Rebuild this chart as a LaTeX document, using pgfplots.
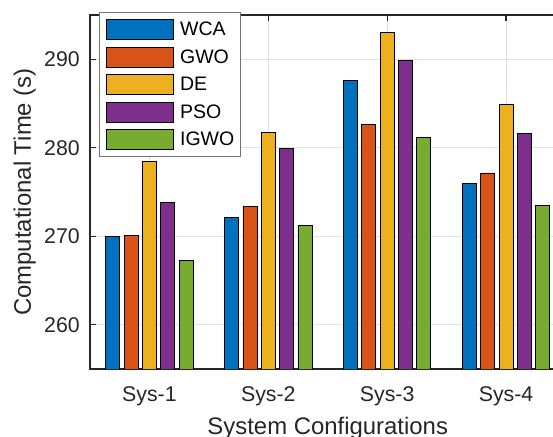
\documentclass[border=0pt]{standalone}
\usepackage{pgfplots}
\pgfplotsset{compat=1.18}
\usepackage{fontspec}
\setmainfont{Liberation Sans}
\definecolor{c1}{rgb}{0,0.447,0.741}
\definecolor{c2}{rgb}{0.85,0.325,0.098}
\definecolor{c3}{rgb}{0.929,0.694,0.125}
\definecolor{c4}{rgb}{0.494,0.184,0.556}
\definecolor{c5}{rgb}{0.466,0.674,0.188}
\definecolor{axc}{rgb}{0.15,0.15,0.15}
\pgfplotsset{/pgfplots/layers/mylayers/.define layer set={axis background,axis grid,main,axis ticks,axis lines,axis tick labels,axis descriptions,axis foreground}{}}
\begin{document}
\begin{tikzpicture}
\begin{axis}[
  set layers=mylayers,
  at={(0,0)}, anchor=south west,
  scale only axis, width=475.5bp, height=354bp,
  xmin=0.5, xmax=4.5, ymin=255, ymax=295,
  xtick={1,2,3,4}, xticklabels={Sys-1,Sys-2,Sys-3,Sys-4},
  ytick={260,270,280,290},
  ybar=4.33bp, bar width=14bp,
  tick align=inside, major tick length=5.5bp,
  axis line style={line width=1.5bp, draw=axc},
  every tick/.style={line width=1.3bp, draw=axc},
  grid=major, major grid style={line width=0.8bp, draw=black!12},
  /pgf/number format/assume math mode=true,
  yticklabel style={inner sep=0pt, xshift=-10bp, font=\fontsize{21.4}{25}\selectfont, text=axc},
  xticklabel style={inner sep=0pt, yshift=-17.7bp, font=\fontsize{21.4}{25}\selectfont, text=axc},
  xlabel={System Configurations},
  ylabel={Computational Time (s)},
  xlabel style={at={(axis description cs:0.5,-0.1347)}, anchor=north, inner sep=0pt, font=\fontsize{24}{28}\selectfont, text=axc},
  ylabel style={at={(axis description cs:-0.1613,0.5)}, anchor=north, inner sep=0pt, font=\fontsize{24}{28}\selectfont, text=axc},
  legend image code/.code={\draw[#1,draw=black,line width=0.9bp] (0bp,-10bp) rectangle (67bp,10bp);},
  legend cell align=left,
  legend style={at={(axis description cs:0.0196,1.0076)}, anchor=north west, draw=black!55, line width=0.7bp, fill=white, inner xsep=6.5bp, inner ysep=6.5bp, row sep=6.67bp, column sep=6bp, nodes={inner sep=0pt, font=\fontsize{19.6}{23}\selectfont, text=black}},
  every axis plot/.append style={draw=black, line width=0.9bp},
]
\addplot[fill=c1] coordinates {(1,270.0) (2,272.17) (3,287.64) (4,275.96)};
\addplot[fill=c2] coordinates {(1,270.11) (2,273.41) (3,282.62) (4,277.15)};
\addplot[fill=c3] coordinates {(1,278.43) (2,281.72) (3,292.99) (4,284.91)};
\addplot[fill=c4] coordinates {(1,273.78) (2,279.9) (3,289.81) (4,281.65)};
\addplot[fill=c5] coordinates {(1,267.27) (2,271.2) (3,281.16) (4,273.48)};
\legend{WCA,GWO,DE,PSO,IGWO}
\end{axis}
\pgfresetboundingbox
\useasboundingbox (-90bp,-68bp) rectangle (463bp,369bp);
\end{tikzpicture}
\end{document}
